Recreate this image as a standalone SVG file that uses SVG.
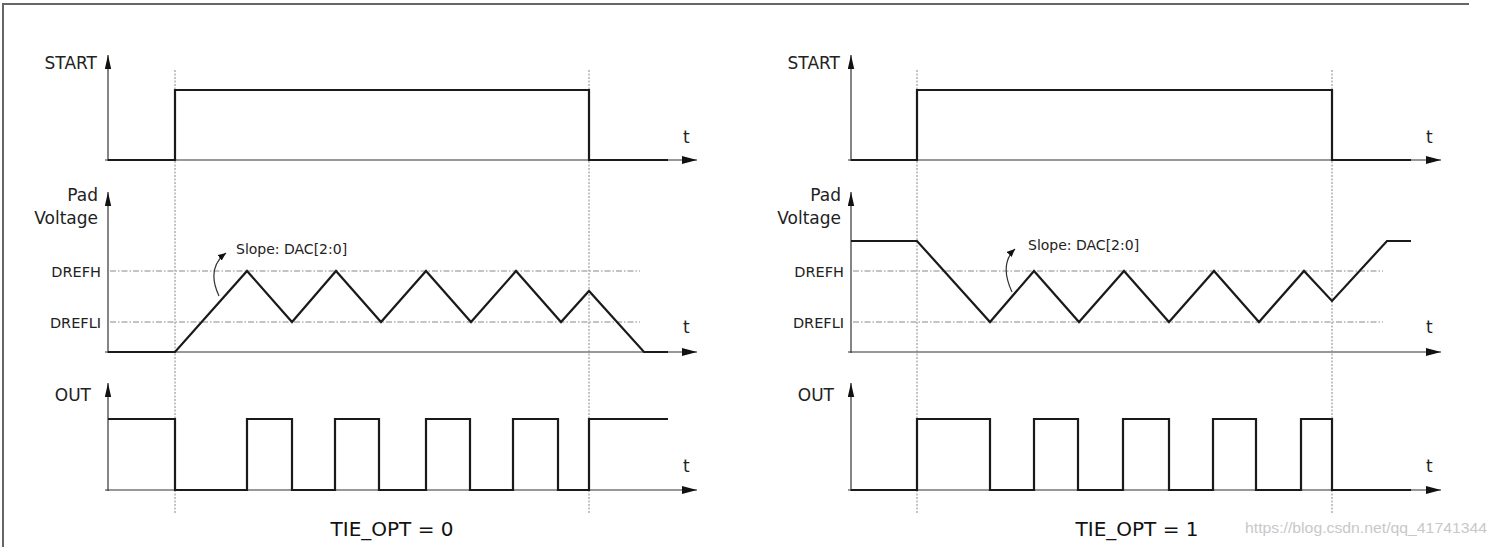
<svg xmlns="http://www.w3.org/2000/svg" width="1497" height="547" viewBox="0 0 1497 547">
<style>
  .frame{fill:none;stroke:#666;stroke-width:2}
  .axis{fill:none;stroke:#333;stroke-width:1.2}
  .sig{fill:none;stroke:#1a1a1a;stroke-width:2.2;stroke-linejoin:miter}
  .ref{fill:none;stroke:#888;stroke-width:1;stroke-dasharray:6 2 1.5 2}
  .mark{fill:none;stroke:#888;stroke-width:1;stroke-dasharray:2 1.5}
  .ann{fill:none;stroke:#333;stroke-width:1.2}
  .lbl{font-family:"DejaVu Sans",Verdana,sans-serif;font-size:17px;fill:#222}
  .sm{font-family:"DejaVu Sans",Verdana,sans-serif;font-size:14.5px;fill:#222}
  .slope{font-family:"DejaVu Sans",Verdana,sans-serif;font-size:14px;fill:#222}
  .title{font-family:"DejaVu Sans",Verdana,sans-serif;font-size:20px;fill:#111}
  .wm{font-family:"Liberation Sans",Arial,sans-serif;font-size:15px;fill:#c8c8c8}
</style>
<defs>
  <marker id="ah" markerUnits="userSpaceOnUse" markerWidth="16" markerHeight="10" refX="15" refY="4" orient="auto">
    <path d="M0,0 L15,4 L0,8 Z" fill="#111"/>
  </marker>
  <marker id="av" markerUnits="userSpaceOnUse" markerWidth="16" markerHeight="8" refX="14" refY="3.2" orient="auto">
    <path d="M0,0 L14,3.2 L0,6.4 Z" fill="#111"/>
  </marker>
  <marker id="as" markerUnits="userSpaceOnUse" markerWidth="10" markerHeight="8" refX="8" refY="3.5" orient="auto">
    <path d="M0,0 L8,3.5 L0,7 Z" fill="#111"/>
  </marker>
</defs>

<path class="frame" d="M3,547 V4 H1469"/>

<!-- LEFT PANEL -->
<g id="left-start">
  <text class="lbl" x="97" y="69" text-anchor="end">START</text>
  <path class="axis" d="M108,161 V55" marker-end="url(#av)"/>
  <path class="axis" d="M105,160 H697" marker-end="url(#ah)"/>
  <text class="lbl" x="683" y="143">t</text>
</g>
<g id="left-pad">
  <text class="lbl" x="98" y="201" text-anchor="end">Pad</text>
  <text class="lbl" x="98" y="224" text-anchor="end">Voltage</text>
  <text class="sm" x="101" y="277" text-anchor="end">DREFH</text>
  <text class="sm" x="101" y="328" text-anchor="end">DREFLI</text>
  <path class="axis" d="M108,353 V192" marker-end="url(#av)"/>
  <path class="axis" d="M105,352 H697" marker-end="url(#ah)"/>
  <path class="ref" d="M110,271 H640"/>
  <path class="ref" d="M110,322 H640"/>
  <text class="lbl" x="683" y="333">t</text>
</g>
<g id="left-out">
  <text class="lbl" x="91" y="401" text-anchor="end">OUT</text>
  <path class="axis" d="M108,491 V383" marker-end="url(#av)"/>
  <path class="axis" d="M105,490 H697" marker-end="url(#ah)"/>
  <text class="lbl" x="683" y="472">t</text>
</g>
<g id="left-markers">
  <path class="mark" d="M175,70 V513"/>
  <path class="mark" d="M589,70 V513"/>
</g>
<g id="left-signals">
  <path class="sig" d="M108,160 H175 V90 H589 V160 H668"/>
  <path class="sig" d="M108,352 H175 L247,271 L292,322 L336,271 L381,322 L426,271 L471,322 L516,271 L561,322 L589,291 L644,352 H668"/>
  <path class="sig" d="M108,419 H175 V490 H247 V419 H292 V490 H335 V419 H379 V490 H426 V419 H470 V490 H513 V419 H558 V490 H589 V419 H668"/>
</g>
<g id="left-slope">
  <path class="ann" d="M219,296 Q206,268 226,253" marker-end="url(#as)"/>
  <text class="slope" x="236" y="254">Slope: DAC[2:0]</text>
</g>
<text id="left-title" class="title" x="392" y="536" text-anchor="middle">TIE_OPT = 0</text>

<!-- RIGHT PANEL -->
<g id="right-start">
  <text class="lbl" x="840" y="69" text-anchor="end">START</text>
  <path class="axis" d="M851,161 V55" marker-end="url(#av)"/>
  <path class="axis" d="M848,160 H1441" marker-end="url(#ah)"/>
  <text class="lbl" x="1426" y="143">t</text>
</g>
<g id="right-pad">
  <text class="lbl" x="841" y="201" text-anchor="end">Pad</text>
  <text class="lbl" x="841" y="224" text-anchor="end">Voltage</text>
  <text class="sm" x="844" y="277" text-anchor="end">DREFH</text>
  <text class="sm" x="844" y="328" text-anchor="end">DREFLI</text>
  <path class="axis" d="M851,353 V192" marker-end="url(#av)"/>
  <path class="axis" d="M848,352 H1441" marker-end="url(#ah)"/>
  <path class="ref" d="M853,271 H1383"/>
  <path class="ref" d="M853,322 H1383"/>
  <text class="lbl" x="1426" y="333">t</text>
</g>
<g id="right-out">
  <text class="lbl" x="834" y="401" text-anchor="end">OUT</text>
  <path class="axis" d="M851,491 V383" marker-end="url(#av)"/>
  <path class="axis" d="M848,490 H1441" marker-end="url(#ah)"/>
  <text class="lbl" x="1426" y="472">t</text>
</g>
<g id="right-markers">
  <path class="mark" d="M917,70 V513"/>
  <path class="mark" d="M1332,70 V513"/>
</g>
<g id="right-signals">
  <path class="sig" d="M851,160 H917 V90 H1332 V160 H1411"/>
  <path class="sig" d="M851,241 H917 L990,322 L1034,271 L1079,322 L1124,271 L1169,322 L1214,271 L1259,322 L1304,271 L1332,301 L1387,241 H1411"/>
  <path class="sig" d="M851,490 H917 V419 H990 V490 H1034 V419 H1078 V490 H1123 V419 H1169 V490 H1213 V419 H1256 V490 H1301 V419 H1332 V490 H1411"/>
</g>
<g id="right-slope">
  <path class="ann" d="M1012,292 Q999,264 1015,249" marker-end="url(#as)"/>
  <text class="slope" x="1028" y="250">Slope: DAC[2:0]</text>
</g>
<text id="right-title" class="title" x="1137" y="536" text-anchor="middle">TIE_OPT = 1</text>

<text id="watermark" class="wm" x="1245" y="533" textLength="242" lengthAdjust="spacingAndGlyphs">https://blog.csdn.net/qq_41741344</text>
</svg>
